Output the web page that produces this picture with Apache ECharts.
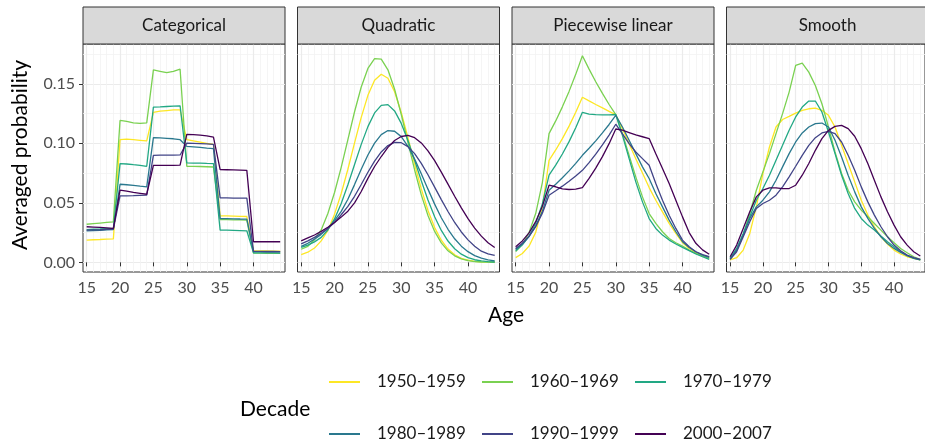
<!DOCTYPE html>
<html><head><meta charset="utf-8">
<script src="https://cdn.jsdelivr.net/npm/echarts@6/dist/echarts.min.js"></script>
<style>html,body{margin:0;padding:0;background:#fff}#c{width:925px;height:444px}</style>
</head><body><div id="c"></div>
<script>
// ---------- data ----------
const ages = [15,16,17,18,19,20,21,22,23,24,25,26,27,28,29,30,31,32,33,34,35,36,37,38,39,40,41,42,43,44];
const decades = ['1950–1959','1960–1969','1970–1979','1980–1989','1990–1999','2000–2007'];
const panels = ['Categorical','Quadratic','Piecewise linear','Smooth'];
const xTicks = [15,20,25,30,35,40];
const xMinor = [16,17,18,19,21,22,23,24,26,27,28,29,31,32,33,34,36,37,38,39,41,42,43,44];
const yTicks = [0,0.05,0.10,0.15];
const yMinor = [0.025,0.075,0.125,0.175];

const cat_1950 = [0.0187,0.019,0.0192,0.0195,0.0197,0.103,0.1035,0.103,0.1025,0.102,0.126,0.127,0.1275,0.128,0.128,0.103,0.102,0.101,0.100,0.099,0.039,0.039,0.0388,0.0386,0.0385,0.0098,0.0097,0.0096,0.0095,0.0094];
const cat_1960 = [0.032,0.0325,0.033,0.0335,0.034,0.1192,0.1184,0.1172,0.1167,0.1172,0.1616,0.1605,0.1594,0.1605,0.1622,0.0807,0.0806,0.0805,0.0803,0.0801,0.036,0.0359,0.0357,0.0356,0.0355,0.0078,0.0077,0.0076,0.0075,0.0075];
const cat_1970 = [0.0275,0.0278,0.028,0.0283,0.0285,0.0829,0.0826,0.082,0.0815,0.0807,0.1304,0.1306,0.1309,0.1312,0.1315,0.0835,0.0834,0.0833,0.0831,0.083,0.0271,0.027,0.0269,0.0267,0.0265,0.008,0.008,0.0079,0.0079,0.0078];
const cat_1980 = [0.0265,0.0267,0.0269,0.0272,0.0276,0.0656,0.0652,0.0647,0.064,0.0634,0.1047,0.1045,0.1042,0.1038,0.103,0.0974,0.097,0.0966,0.096,0.0955,0.0368,0.0367,0.0366,0.0364,0.0363,0.009,0.009,0.0089,0.0089,0.0088];
const cat_1990 = [0.027,0.0272,0.0274,0.0277,0.028,0.0558,0.0559,0.056,0.0562,0.0564,0.0899,0.09,0.09,0.0901,0.0902,0.1002,0.1,0.0998,0.0995,0.0991,0.0542,0.0541,0.054,0.054,0.0539,0.0092,0.0092,0.0091,0.0091,0.009];
const cat_2000 = [0.0299,0.0296,0.0293,0.029,0.0285,0.0606,0.0598,0.0588,0.058,0.0572,0.0815,0.0815,0.0815,0.0815,0.0816,0.1075,0.1072,0.1068,0.1062,0.1052,0.0779,0.0778,0.0777,0.0775,0.0773,0.0173,0.0173,0.0173,0.0173,0.0173];

const quad_1950 = [0.0065,0.0085,0.012,0.018,0.0268,0.0405,0.0578,0.0782,0.1003,0.1218,0.1403,0.1529,0.158,0.1546,0.1433,0.1259,0.1048,0.0826,0.0617,0.0436,0.0292,0.0186,0.0112,0.0064,0.0034,0.0018,0.0009,0.0004,0.0002,0.0001];
const quad_1960 = [0.011,0.0135,0.019,0.0272,0.041,0.0587,0.0798,0.1031,0.1265,0.1473,0.1629,0.1711,0.1707,0.1617,0.1454,0.1242,0.1007,0.0776,0.0567,0.0394,0.026,0.0163,0.0097,0.0055,0.0029,0.0015,0.0007,0.0003,0.0002,0.0001];
const quad_1970 = [0.0125,0.0145,0.0172,0.021,0.0272,0.0365,0.0494,0.0652,0.0822,0.0991,0.114,0.1255,0.1319,0.1325,0.1272,0.1167,0.1023,0.0857,0.0686,0.0524,0.0383,0.0268,0.0179,0.0114,0.0069,0.004,0.0022,0.0012,0.0006,0.0003];
const quad_1980 = [0.0135,0.016,0.0195,0.0235,0.0285,0.035,0.0428,0.053,0.0653,0.0782,0.0902,0.1002,0.1073,0.1107,0.1101,0.1056,0.0975,0.0867,0.0744,0.0615,0.0489,0.0375,0.0278,0.0198,0.0136,0.009,0.0057,0.0035,0.0021,0.0012];
const quad_1990 = [0.0155,0.018,0.021,0.0245,0.0285,0.0335,0.040,0.047,0.0555,0.0654,0.0757,0.085,0.0927,0.0981,0.1008,0.1005,0.0972,0.0913,0.0832,0.0736,0.0632,0.0527,0.0427,0.0335,0.0255,0.0189,0.0135,0.0094,0.0072,0.0058];
const quad_2000 = [0.018,0.0205,0.023,0.026,0.0295,0.0335,0.038,0.043,0.050,0.0595,0.0705,0.0805,0.0889,0.0966,0.1023,0.1057,0.1066,0.1047,0.1003,0.0937,0.0854,0.0758,0.0657,0.0555,0.0457,0.0367,0.0288,0.022,0.0164,0.0125];

const pw_1950 = [0.004,0.0074,0.0136,0.0252,0.0465,0.0857,0.0944,0.1039,0.1144,0.126,0.1387,0.1356,0.1326,0.1297,0.1268,0.124,0.1123,0.0997,0.0871,0.0751,0.0628,0.0522,0.0424,0.0327,0.0243,0.0165,0.0117,0.0081,0.0059,0.0042];
const pw_1960 = [0.009,0.015,0.025,0.041,0.067,0.1081,0.1188,0.1306,0.1436,0.1579,0.1736,0.1623,0.1517,0.1419,0.1326,0.124,0.1081,0.0899,0.0718,0.055,0.041,0.0327,0.0257,0.0201,0.0165,0.0137,0.0103,0.0075,0.0053,0.0034];
const pw_1970 = [0.0098,0.0147,0.0219,0.0328,0.049,0.0732,0.0816,0.091,0.1014,0.1131,0.126,0.1245,0.124,0.1238,0.1238,0.1242,0.1067,0.0871,0.0676,0.0508,0.0368,0.0285,0.0229,0.0187,0.0154,0.0126,0.0098,0.007,0.0047,0.0025];
const pw_1980 = [0.0109,0.0154,0.0216,0.0305,0.043,0.0606,0.0656,0.071,0.0768,0.0831,0.0899,0.0958,0.102,0.1087,0.1158,0.1234,0.1137,0.1025,0.0913,0.0802,0.0704,0.0578,0.0466,0.0355,0.0257,0.0173,0.0125,0.0089,0.0061,0.0042];
const pw_1990 = [0.0117,0.016,0.022,0.030,0.0412,0.0564,0.0601,0.064,0.0681,0.0726,0.0773,0.0838,0.0909,0.0986,0.1069,0.116,0.108,0.0997,0.0927,0.0871,0.0815,0.0662,0.0522,0.0396,0.0285,0.0187,0.0131,0.0089,0.0066,0.0048];
const pw_2000 = [0.0131,0.018,0.0248,0.0342,0.0471,0.0648,0.0635,0.0618,0.0612,0.0615,0.0628,0.0705,0.0791,0.0888,0.0997,0.112,0.111,0.109,0.107,0.1055,0.104,0.0913,0.0788,0.0662,0.0522,0.0382,0.025,0.016,0.0105,0.0068];

const sm_1950 = [0.002,0.0039,0.0103,0.0243,0.0466,0.0746,0.0969,0.1137,0.12,0.1226,0.1254,0.1277,0.129,0.1296,0.1277,0.1235,0.1137,0.0983,0.083,0.0676,0.0522,0.0397,0.0299,0.0215,0.0154,0.0103,0.007,0.0047,0.0034,0.002];
const sm_1960 = [0.0034,0.0103,0.0229,0.041,0.0606,0.076,0.0913,0.1081,0.1249,0.143,0.1654,0.1673,0.1598,0.1486,0.1332,0.1137,0.0927,0.0746,0.0606,0.0508,0.0439,0.0383,0.0327,0.0271,0.0215,0.0165,0.0117,0.0081,0.0047,0.0025];
const sm_1970 = [0.0034,0.0117,0.0243,0.0383,0.0522,0.062,0.0732,0.0858,0.0983,0.1109,0.1221,0.1304,0.1355,0.1355,0.1263,0.1095,0.0913,0.0732,0.0578,0.0453,0.0369,0.0313,0.0271,0.0221,0.0173,0.0131,0.0089,0.0056,0.0034,0.002];
const sm_1980 = [0.0025,0.0103,0.0229,0.0369,0.0466,0.0522,0.0592,0.069,0.0802,0.0913,0.1011,0.1087,0.1137,0.1165,0.117,0.1137,0.1025,0.0885,0.0732,0.0592,0.0466,0.0369,0.0285,0.0215,0.0159,0.0117,0.0084,0.0056,0.0036,0.002];
const sm_1990 = [0.0025,0.0089,0.0215,0.0341,0.0453,0.0494,0.0522,0.0564,0.0634,0.0718,0.0807,0.0899,0.0983,0.1047,0.1087,0.1101,0.1081,0.1011,0.0899,0.0774,0.0634,0.0508,0.0397,0.0299,0.0215,0.0145,0.0098,0.0061,0.0039,0.0025];
const sm_2000 = [0.0047,0.0145,0.0285,0.0425,0.055,0.0606,0.0626,0.0626,0.062,0.062,0.0648,0.0732,0.083,0.0941,0.1039,0.1109,0.1142,0.1151,0.1123,0.1059,0.0955,0.083,0.069,0.055,0.0425,0.0313,0.0215,0.0145,0.0089,0.0053];

const panelData = [
  [cat_1950, cat_1960, cat_1970, cat_1980, cat_1990, cat_2000],
  [quad_1950, quad_1960, quad_1970, quad_1980, quad_1990, quad_2000],
  [pw_1950, pw_1960, pw_1970, pw_1980, pw_1990, pw_2000],
  [sm_1950, sm_1960, sm_1970, sm_1980, sm_1990, sm_2000]
];

// ---------- style ----------
const colors = ['#FDE725','#7AD151','#22A884','#2A788E','#414487','#440154'];
const FONT = 'Lato';
const gridLeft = [83, 297.5, 512, 726.5];
const gridTop = 44, gridW = 202, gridH = 228;
const xMin = 14.45, xMax = 44.72, yMin = -0.0081, yMax = 0.1834;

const grids = [], xAxes = [], yAxes = [], series = [], graphics = [];
panels.forEach((p, i) => {
  grids.push({left: gridLeft[i], top: gridTop, width: gridW, height: gridH, show: true,
    borderColor: '#333333', borderWidth: 1, backgroundColor: '#FFFFFF'});
  // minor axes
  xAxes.push({type: 'value', gridIndex: i, min: xMin, max: xMax,
    axisLine: {show: false}, axisTick: {show: false, customValues: xMinor},
    axisLabel: {show: false, customValues: xMinor},
    splitLine: {show: true, lineStyle: {color: '#F3F3F3', width: 0.8}}});
  yAxes.push({type: 'value', gridIndex: i, min: yMin, max: yMax,
    axisLine: {show: false}, axisTick: {show: false, customValues: yMinor},
    axisLabel: {show: false, customValues: yMinor},
    splitLine: {show: true, lineStyle: {color: '#F3F3F3', width: 0.8}}});
  // major axes
  xAxes.push({type: 'value', gridIndex: i, min: xMin, max: xMax, position: 'bottom',
    axisLine: {show: false},
    axisTick: {show: true, inside: false, length: 4, customValues: xTicks, lineStyle: {color: '#333333', width: 1}},
    axisLabel: {show: true, customValues: xTicks, color: '#4D4D4D', fontSize: 16, fontFamily: FONT, margin: 8},
    splitLine: {show: true, lineStyle: {color: '#EBEBEB', width: 1.2}}});
  yAxes.push({type: 'value', gridIndex: i, min: yMin, max: yMax, position: 'left',
    axisLine: {show: false},
    axisTick: {show: i === 0, inside: false, length: 4, customValues: yTicks, lineStyle: {color: '#333333', width: 1}},
    axisLabel: {show: i === 0, customValues: yTicks, color: '#4D4D4D', fontSize: 16, fontFamily: FONT, margin: 8,
      formatter: v => v.toFixed(2)},
    splitLine: {show: true, lineStyle: {color: '#EBEBEB', width: 1.2}}});
  panelData[i].forEach((arr, d) => {
    series.push({type: 'line', name: decades[d], xAxisIndex: 2*i+1, yAxisIndex: 2*i+1,
      data: ages.map((a, k) => [a, arr[k]]), showSymbol: false, symbol: 'none',
      color: colors[d], lineStyle: {color: colors[d], width: 1.3}, silent: true, animation: false});
  });
  graphics.push({type: 'rect', shape: {x: gridLeft[i], y: 7, width: gridW, height: gridTop - 7},
    style: {fill: '#D9D9D9', stroke: '#333333', lineWidth: 1}, z: 10});
  graphics.push({type: 'text', x: gridLeft[i] + gridW/2, y: 25.5,
    style: {text: p, fill: '#1A1A1A', font: '17px ' + FONT, textAlign: 'center', textVerticalAlign: 'middle'}, z: 11});
});

graphics.push({type: 'text', x: 20, y: 155, rotation: Math.PI/2,
  style: {text: 'Averaged probability', fill: '#000000', font: '21px ' + FONT, textAlign: 'center', textVerticalAlign: 'middle'}});
graphics.push({type: 'text', x: 506, y: 315,
  style: {text: 'Age', fill: '#000000', font: '21px ' + FONT, textAlign: 'center', textVerticalAlign: 'middle'}});
graphics.push({type: 'text', x: 240, y: 409,
  style: {text: 'Decade', fill: '#000000', font: '21px ' + FONT, textAlign: 'left', textVerticalAlign: 'middle'}});

const legLeft = [329, 482, 635, 329, 482, 635];
const legTop = [372, 372, 372, 424, 424, 424];
const legends = decades.map((d, k) => ({
  data: [d], left: legLeft[k], top: legTop[k], padding: 0, selectedMode: false,
  icon: 'rect', itemWidth: 31, itemHeight: 2,
  textStyle: {fontSize: 17, fontFamily: FONT, color: '#1A1A1A', padding: [0, 0, 0, 12], lineHeight: 20}
}));

const chart = echarts.init(document.getElementById('c'), null, {renderer: 'canvas'});
chart.setOption({
  animation: false,
  backgroundColor: '#FFFFFF',
  grid: grids, xAxis: xAxes, yAxis: yAxes, series: series,
  legend: legends, graphic: graphics
});
</script></body></html>
